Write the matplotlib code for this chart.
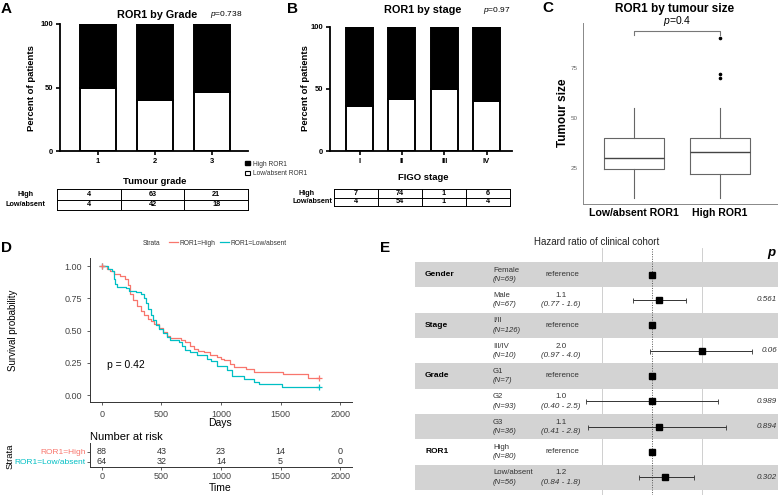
import numpy as np
import matplotlib
matplotlib.use("Agg")
import matplotlib.pyplot as plt
from matplotlib.patches import Patch
from matplotlib.lines import Line2D
from matplotlib import transforms

plt.rcParams['font.family'] = ['Liberation Sans', 'DejaVu Sans']
plt.rcParams['mathtext.fontset'] = 'custom'
plt.rcParams['mathtext.it'] = 'Liberation Sans:italic'
plt.rcParams['mathtext.rm'] = 'Liberation Sans'

# ---------------- data ----------------
grade_labels = ['1', '2', '3']
grade_high = [4, 63, 21]
grade_low = [4, 42, 18]

stage_labels = ['I', 'II', 'III', 'IV']
stage_high = [7, 74, 1, 6]
stage_low = [4, 54, 1, 4]

size_groups = ['Low/absent ROR1', 'High ROR1']
size_q1 = [24.5, 22]
size_med = [30, 33]
size_q3 = [40, 40]
size_whislo = [10, 10]
size_whishi = [55, 55]
size_fliers = [[], [70, 72, 90]]

high_t = [0, 40, 70, 100, 150, 190, 215, 240, 265, 295, 325, 355, 385, 410, 440, 480, 510,
          545, 575, 660, 700, 740, 775, 810, 860, 910, 970, 1000, 1023, 1075, 1110, 1210,
          1275, 1520, 1727, 1826]
high_s = [1.0, 0.98, 0.96, 0.94, 0.92, 0.90, 0.85, 0.78, 0.74, 0.69, 0.65, 0.62, 0.59, 0.57,
          0.55, 0.52, 0.49, 0.46, 0.44, 0.43, 0.41, 0.38, 0.36, 0.34, 0.33, 0.31, 0.297, 0.28,
          0.27, 0.24, 0.22, 0.20, 0.178, 0.163, 0.135, 0.135]
low_t = [0, 50, 85, 100, 110, 130, 200, 230, 290, 330, 350, 370, 390, 410, 430, 455, 480, 510,
         545, 570, 650, 670, 700, 740, 800, 880, 920, 969, 1053, 1095, 1190, 1275, 1317, 1516,
         1826]
low_s = [1.0, 0.98, 0.96, 0.90, 0.86, 0.84, 0.83, 0.81, 0.80, 0.78, 0.75, 0.71, 0.67, 0.62,
         0.58, 0.54, 0.51, 0.48, 0.45, 0.43, 0.41, 0.38, 0.35, 0.33, 0.31, 0.28, 0.26, 0.225,
         0.194, 0.147, 0.124, 0.103, 0.083, 0.065, 0.065]
censor_t = [0, 1826]
risk_times = [0, 500, 1000, 1500, 2000]
risk_high = [88, 43, 23, 14, 0]
risk_low = [64, 32, 14, 5, 0]

forest_vars = ['Gender', '', 'Stage', '', 'Grade', '', '', 'ROR1', '']
forest_levels = ['Female', 'Male', 'I/II', 'III/IV', 'G1', 'G2', 'G3', 'High', 'Low/absent']
forest_n = [69, 67, 126, 10, 7, 93, 36, 80, 56]
forest_hr = [1.0, 1.1, 1.0, 2.0, 1.0, 1.0, 1.1, 1.0, 1.2]
forest_lo = [np.nan, 0.77, np.nan, 0.97, np.nan, 0.40, 0.41, np.nan, 0.84]
forest_hi = [np.nan, 1.6, np.nan, 4.0, np.nan, 2.5, 2.8, np.nan, 1.8]
forest_p = ['', '0.561', '', '0.06', '', '0.989', '0.894', '', '0.302']

RED = '#F8766D'
TEAL = '#00BFC4'

# ---------------- figure helpers ----------------
W, H = 778, 495
fig = plt.figure(figsize=(W / 100, H / 100), dpi=100)


def axpx(x0, y0, x1, y1):
    return fig.add_axes([x0 / W, 1 - y1 / H, (x1 - x0) / W, (y1 - y0) / H])


def ftext(x, y, s, **kw):
    kw.setdefault('ha', 'center')
    kw.setdefault('va', 'center')
    return fig.text(x / W, 1 - y / H, s, **kw)


def bar_panel(ax, labels, high, low, xlim):
    high = np.array(high, float)
    low = np.array(low, float)
    pct_low = low / (high + low) * 100
    pct_high = 100 - pct_low
    x = np.arange(len(labels))
    w = 0.64
    ax.bar(x, pct_low, w, color='white', edgecolor='black', linewidth=1.4)
    ax.bar(x, pct_high, w, bottom=pct_low, color='black', edgecolor='black', linewidth=1.4)
    ax.set_xlim(*xlim)
    ax.set_ylim(0, 100)
    ax.set_yticks([0, 50, 100])
    ax.set_xticks(x)
    ax.set_xticklabels(labels, fontsize=5.5, fontweight='bold')
    for t in ax.get_yticklabels():
        t.set_fontsize(5.5)
        t.set_fontweight('bold')
    for s in ['top', 'right']:
        ax.spines[s].set_visible(False)
    for s in ['left', 'bottom']:
        ax.spines[s].set_linewidth(1.3)
    ax.tick_params(width=1.2, length=3, pad=2)


def table_panel(ax, high, low):
    n = len(high)
    ax.set_xlim(0, n)
    ax.set_ylim(2, 0)
    ax.set_xticks([])
    ax.set_yticks([])
    for s in ax.spines.values():
        s.set_linewidth(0.7)
    for i in range(1, n):
        ax.axvline(i, color='black', lw=0.7)
    ax.axhline(1, color='black', lw=0.7)
    for i in range(n):
        ax.text(i + 0.5, 0.5, str(high[i]), ha='center', va='center', fontsize=5.2, fontweight='bold')
        ax.text(i + 0.5, 1.5, str(low[i]), ha='center', va='center', fontsize=5.2, fontweight='bold')


# ---------------- Panel A ----------------
axA = axpx(60, 24, 248, 151)
bar_panel(axA, grade_labels, grade_high, grade_low, (-0.667, 2.63))
ftext(6, 9, 'A', fontsize=11, fontweight='bold')
ftext(157, 15, 'ROR1 by Grade', fontsize=7.8, fontweight='bold')
ftext(226, 15, r'$\mathit{p}$=0.738', fontsize=6)
ftext(32, 88, 'Percent of patients', fontsize=6.8, fontweight='bold', rotation=90)
ftext(155, 181, 'Tumour grade', fontsize=6.8, fontweight='bold')
axTA = axpx(57, 189, 248, 210)
table_panel(axTA, grade_high, grade_low)
ftext(26, 194, 'High', fontsize=5.2, fontweight='bold')
ftext(25, 204.5, 'Low/absent', fontsize=5.2, fontweight='bold')

fig.legend(handles=[Patch(facecolor='black', edgecolor='black'),
                    Patch(facecolor='white', edgecolor='black', linewidth=0.8)],
           labels=['High ROR1', 'Low/absent ROR1'], loc='upper left',
           bbox_to_anchor=(240 / W, 1 - 156 / H), frameon=False, fontsize=4.8,
           handlelength=0.8, handleheight=0.5, handletextpad=0.5, labelspacing=0.35,
           labelcolor='#333333', borderpad=0.2)

# ---------------- Panel B ----------------
axB = axpx(330, 27, 512, 151)
bar_panel(axB, stage_labels, stage_high, stage_low, (-0.70, 3.6))
ftext(293, 9, 'B', fontsize=11, fontweight='bold')
ftext(423, 10, 'ROR1 by stage', fontsize=7.8, fontweight='bold')
ftext(497, 10, r'$\mathit{p}$=0.97', fontsize=6)
ftext(306, 88, 'Percent of patients', fontsize=6.8, fontweight='bold', rotation=90)
ftext(423, 178, 'FIGO stage', fontsize=6.8, fontweight='bold')
axTB = axpx(334, 189, 510, 206)
table_panel(axTB, stage_high, stage_low)
ftext(307, 193, 'High', fontsize=5.2, fontweight='bold')
ftext(312, 201.5, 'Low/absent', fontsize=5.2, fontweight='bold')

# ---------------- Panel C ----------------
axC = axpx(583, 23, 777, 204)
stats = []
for i in range(2):
    stats.append(dict(med=size_med[i], q1=size_q1[i], q3=size_q3[i],
                      whislo=size_whislo[i], whishi=size_whishi[i],
                      fliers=size_fliers[i], label=size_groups[i]))
axC.bxp(stats, positions=[1, 2], widths=0.7, showfliers=True,
        boxprops=dict(color='#666666', linewidth=0.8),
        whiskerprops=dict(color='#666666', linewidth=0.8),
        capprops=dict(linewidth=0),
        medianprops=dict(color='#444444', linewidth=1.0),
        flierprops=dict(marker='o', markersize=1.6, markerfacecolor='black',
                        markeredgecolor='black'))
axC.set_xlim(0.407, 2.66)
axC.set_ylim(7, 97.5)
axC.set_yticks([25, 50, 75])
axC.tick_params(axis='y', labelsize=4.5, labelcolor='#666666', length=0, pad=4)
axC.tick_params(axis='x', labelsize=7.6, length=0, pad=3)
for t in axC.get_xticklabels():
    t.set_fontweight('bold')
for s in ['top', 'right']:
    axC.spines[s].set_visible(False)
for s in ['left', 'bottom']:
    axC.spines[s].set_color('#888888')
    axC.spines[s].set_linewidth(0.7)
axC.plot([1, 1, 2, 2], [91.5, 93.5, 93.5, 91.5], color='#777777', lw=0.8, clip_on=False)
ftext(548, 8, 'C', fontsize=11, fontweight='bold')
ftext(675, 9, 'ROR1 by tumour size', fontsize=8.5, fontweight='bold')
ftext(677, 21, r'$\mathit{p}$=0.4', fontsize=7.5)
ftext(563, 113, 'Tumour size', fontsize=8.5, fontweight='bold', rotation=90)

# ---------------- Panel D ----------------
axD = axpx(90, 258, 352, 402)
axD.step(high_t, high_s, where='post', color=RED, lw=0.9)
axD.step(low_t, low_s, where='post', color=TEAL, lw=0.9)
for t_arr, s_arr, c in [(low_t, low_s, TEAL), (high_t, high_s, RED)]:
    idx = np.searchsorted(t_arr, censor_t, side='right') - 1
    axD.plot(censor_t, np.array(s_arr)[idx], '+', color=c, ms=5, mew=0.9)
axD.set_xlim(-100, 2100)
axD.set_ylim(-0.054, 1.062)
axD.set_xticks(risk_times)
axD.set_yticks([0, 0.25, 0.5, 0.75, 1.0])
axD.set_yticklabels(['0.00', '0.25', '0.50', '0.75', '1.00'])
axD.tick_params(labelsize=6.5, labelcolor='#444444', length=2.5, width=0.6, color='#444444')
for s in ['top', 'right']:
    axD.spines[s].set_visible(False)
for s in ['left', 'bottom']:
    axD.spines[s].set_color('#333333')
    axD.spines[s].set_linewidth(0.7)
axD.text(40, 0.23, 'p = 0.42', fontsize=7.5, ha='left', va='center')
ftext(6, 248, 'D', fontsize=11, fontweight='bold')
ftext(13, 330, 'Survival probability', fontsize=7, rotation=90)
ftext(220, 423, 'Days', fontsize=7.5)
ftext(143, 243, 'Strata', fontsize=4.8, ha='left', color='#333333')
fig.legend(handles=[Line2D([], [], color=RED, lw=0.9), Line2D([], [], color=TEAL, lw=0.9)],
           labels=['ROR1=High', 'ROR1=Low/absent'], loc='center left',
           bbox_to_anchor=(166 / W, 1 - 243 / H), frameon=False, fontsize=4.8, ncol=2,
           handlelength=1.3, handletextpad=0.3, columnspacing=0.6, borderpad=0,
           labelcolor='#333333')

axR = axpx(90, 443, 352, 467)
axR.set_xlim(-100, 2100)
axR.set_ylim(1.5, -0.9)
for i, t in enumerate(risk_times):
    axR.text(t, 0, str(risk_high[i]), ha='center', va='center', fontsize=6.5, color='#333333')
    axR.text(t, 1, str(risk_low[i]), ha='center', va='center', fontsize=6.5, color='#333333')
axR.set_yticks([0, 1])
axR.set_yticklabels(['ROR1=High', 'ROR1=Low/absent'], fontsize=6)
axR.get_yticklabels()[0].set_color(RED)
axR.get_yticklabels()[1].set_color(TEAL)
axR.set_xticks(risk_times)
axR.tick_params(axis='x', labelsize=6.5, labelcolor='#444444', length=2, width=0.6,
                color='#444444', pad=1.5)
axR.tick_params(axis='y', length=2, width=0.6, pad=1, color='#444444')
for s in ['top', 'right']:
    axR.spines[s].set_visible(False)
for s in ['left', 'bottom']:
    axR.spines[s].set_color('#333333')
    axR.spines[s].set_linewidth(0.7)
ftext(90, 437, 'Number at risk', fontsize=8, ha='left')
ftext(10, 456, 'Strata', fontsize=6.8, rotation=90)
ftext(220, 488, 'Time', fontsize=7.5)

# ---------------- Panel E ----------------
axE = axpx(415, 248, 778, 495)
axE.set_xscale('log', base=2)
axE.set_xlim(2 ** ((415 - 652) / 50), 2 ** ((778 - 652) / 50))
axE.set_ylim(9.2, -0.55)
axE.axis('off')
axE.patch.set_visible(False)
for xv in [0.5, 2.0]:
    axE.axvline(xv, color='#C8C8C8', lw=0.6, zorder=0.5)
nrows = len(forest_levels)
for i in range(nrows):
    if i % 2 == 0:
        axE.axhspan(i, i + 1, color='#D3D3D3', lw=0, zorder=1)
axE.axvline(1.0, color='#555555', lw=0.7, ls=(0, (1, 1.5)), zorder=2)
rows = np.arange(nrows) + 0.5
hr = np.array(forest_hr)
lo = np.array(forest_lo)
hi = np.array(forest_hi)
has_ci = ~np.isnan(lo)
axE.errorbar(hr[has_ci], rows[has_ci], xerr=[hr[has_ci] - lo[has_ci], hi[has_ci] - hr[has_ci]],
             fmt='none', ecolor='#333333', elinewidth=0.7, capsize=1.8, capthick=0.6, zorder=3)
axE.plot(hr, rows, 's', color='black', ms=5, zorder=4)

tr = transforms.blended_transform_factory(fig.transFigure, axE.transData)
for i in range(nrows):
    y = rows[i]
    if forest_vars[i]:
        axE.text(425 / W, y, forest_vars[i], transform=tr, fontsize=6, fontweight='bold',
                 ha='left', va='center', zorder=5)
    axE.text(493 / W, y - 0.17, forest_levels[i], transform=tr, fontsize=5.6,
             ha='left', va='center', color='#333333', zorder=5)
    axE.text(493 / W, y + 0.2, '(N=%d)' % forest_n[i], transform=tr, fontsize=5.6,
             ha='left', va='center', style='italic', color='#333333', zorder=5)
    if has_ci[i]:
        axE.text(561 / W, y - 0.17, '%.1f' % forest_hr[i], transform=tr, fontsize=5.8,
                 ha='center', va='center', color='#333333', zorder=5)
        axE.text(561 / W, y + 0.2, '(%.2f - %.1f)' % (forest_lo[i], forest_hi[i]), transform=tr,
                 fontsize=5.8, ha='center', va='center', style='italic', color='#333333', zorder=5)
    else:
        axE.text(562 / W, y, 'reference', transform=tr, fontsize=5.8,
                 ha='center', va='center', color='#333333', zorder=5)
    if forest_p[i]:
        axE.text(777 / W, y, forest_p[i], transform=tr, fontsize=5.8, ha='right', va='center',
                 style='italic', color='#333333', zorder=5)

ftext(385, 248, 'E', fontsize=11, fontweight='bold')
ftext(597, 242, 'Hazard ratio of clinical cohort', fontsize=7, color='#222222')
ftext(771, 253, 'p', fontsize=9.5, fontweight='bold', style='italic')

fig.savefig('out.png', dpi=100)
